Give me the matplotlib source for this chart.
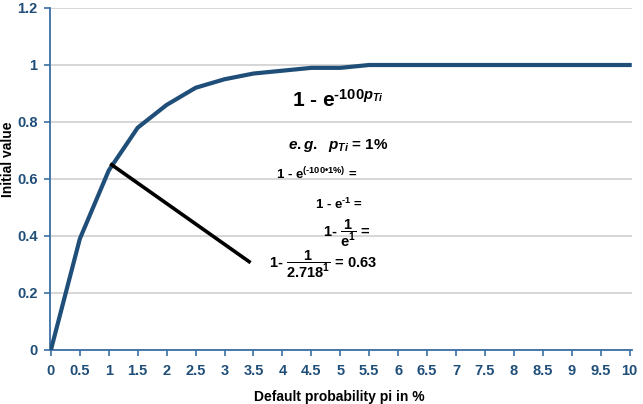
import matplotlib
matplotlib.use("Agg")
import matplotlib.pyplot as plt

plt.rcParams['font.family'] = ['Liberation Sans', 'DejaVu Sans']
plt.rcParams['font.weight'] = 'bold'
plt.rcParams['mathtext.fontset'] = 'custom'
plt.rcParams['mathtext.rm'] = 'Liberation Sans:bold'
plt.rcParams['mathtext.bf'] = 'Liberation Sans:bold'
plt.rcParams['mathtext.it'] = 'Liberation Sans:bold:italic'
plt.rcParams['mathtext.sf'] = 'Liberation Sans:bold'

categories = ['0', '0.5', '1', '1.5', '2', '2.5', '3', '3.5', '4', '4.5', '5',
              '5.5', '6', '6.5', '7', '7.5', '8', '8.5', '9', '9.5', '10']
values = [0.0, 0.39, 0.63, 0.78, 0.86, 0.92, 0.95, 0.97, 0.98, 0.99, 0.99,
          1.0, 1.0, 1.0, 1.0, 1.0, 1.0, 1.0, 1.0, 1.0, 1.0]
y_ticks = [0, 0.2, 0.4, 0.6, 0.8, 1.0, 1.2]
y_tick_labels = ['0', '0.2', '0.4', '0.6', '0.8', '1', '1.2']
pointer_x = [2.1, 6.85]
pointer_y = [0.65, 0.31]

blue = '#1F4E79'
axis_blue = '#3A6EA5'

fig = plt.figure(figsize=(6.43, 4.04), dpi=100)
ax = fig.add_axes([0.0778, 0.1337, 0.905, 0.8465])

xs = list(range(len(categories)))
ax.plot(xs, values, color=blue, lw=3.0, solid_joinstyle='round', zorder=3)
ax.plot(pointer_x, pointer_y, color='black', lw=2.6, zorder=4)

ax.set_xlim(-0.03, 20.08)
ax.set_ylim(0, 1.2)
tick_font = {'fontsize': 10.5, 'fontweight': 'bold', 'color': blue,
             'family': 'Liberation Sans'}
ax.set_xticks(xs)
ax.set_xticklabels(categories, fontdict=tick_font)
ax.set_yticks(y_ticks)
ax.set_yticklabels(y_tick_labels, fontdict=tick_font)

ax.grid(axis='y', color='#CFCFCF', lw=1.2)
ax.set_axisbelow(True)
for s in ['top', 'right']:
    ax.spines[s].set_visible(False)
for s in ['left', 'bottom']:
    ax.spines[s].set_color(axis_blue)
    ax.spines[s].set_linewidth(1.3)
ax.tick_params(axis='both', colors=axis_blue, length=4, width=1.2)
ax.tick_params(axis='x', pad=6)
ax.tick_params(axis='y', pad=5)
for lab in ax.get_xticklabels() + ax.get_yticklabels():
    lab.set_fontweight('bold')
    lab.set_color(blue)
    lab.set_fontsize(10.5)

fig.text(0.012, 0.605, 'Initial value', rotation=90, ha='center', va='center',
         fontsize=10, fontweight='bold', color='black')
fig.text(0.527, 0.017, 'Default probability pi in %', ha='center', va='center',
         fontsize=10, fontweight='bold', color='black')

W, H = 643, 404
def ft(x, y, s, size, **kw):
    fig.text(x / W, 1 - y / H, s, ha='center', va='center', fontsize=size,
             color='black', fontweight='bold', **kw)

ft(338, 100, r'1 - e$^{\text{-100}\mathit{p}_{\mathit{Ti}}}$', 15)
ft(338, 146, r'$\mathit{e.g.}$  $\mathit{p}_{\mathit{Ti}}$ = 1%', 11)
ft(317, 174, r'1 - e$^{\text{(-100•1%)}}$ =', 9.5)
ft(339, 204, r'1 - e$^{\text{-1}}$ =', 9.5)
ft(347, 233, r'1- $\dfrac{1}{\mathrm{e}^{1}}$ =', 10.5)
ft(323, 264, r'1- $\dfrac{1}{2.718^{1}}$ = 0.63', 10.5)

fig.savefig('out.png', dpi=100)
